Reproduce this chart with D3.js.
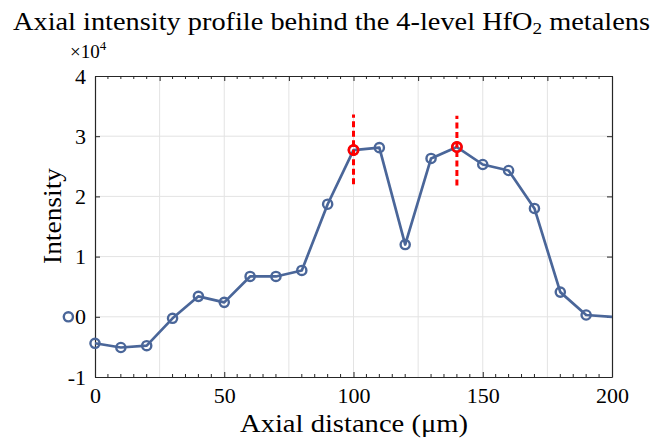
<!DOCTYPE html>
<html>
<head>
<meta charset="utf-8">
<script src="https://cdn.jsdelivr.net/npm/d3@7"></script>
<style>
  body { margin: 0; background: #fff; }
  text { font-family: "Liberation Serif", "DejaVu Serif", serif; fill: #000; }
</style>
</head>
<body>
<div id="chart"></div>
<script>
// data (intensity in units of 1e4)
const distance = [0, 10, 20, 30, 40, 50, 60, 70, 80, 90, 100, 110, 120, 130, 140, 150, 160, 170, 180, 190, 200];
const intensity = [-0.44, -0.51, -0.48, -0.025, 0.34, 0.24, 0.67, 0.67, 0.77, 1.87, 2.77, 2.81, 1.20, 2.63, 2.82, 2.53, 2.43, 1.80, 0.41, 0.03, 0.0];
const peakX = [100, 140];
const peakY = [2.77, 2.82];
const peakSpan = [[2.2, 3.36], [2.18, 3.34]];
const strayMarker = [-10.3, 0];
const xTicks = [0, 50, 100, 150, 200];
const yTicks = [-1, 0, 1, 2, 3, 4];

const width = 660, height = 442;
const m = {left: 95, right: 48, top: 76, bottom: 65};

const x = d3.scaleLinear().domain([0, 200]).range([m.left, width - m.right]);
const y = d3.scaleLinear().domain([-1, 4]).range([height - m.bottom, m.top]);

const svg = d3.select('#chart').append('svg').attr('width', width).attr('height', height);

// grid
const grid = svg.append('g').attr('stroke', '#e3e3e3').attr('stroke-width', 1);
grid.selectAll('.gx').data(d3.range(25, 200, 25)).join('line')
  .attr('x1', d => x(d)).attr('x2', d => x(d)).attr('y1', y(-1)).attr('y2', y(4));
grid.selectAll('.gy').data(d3.range(0, 4, 1)).join('line')
  .attr('x1', x(0)).attr('x2', x(200)).attr('y1', d => y(d)).attr('y2', d => y(d));

// axes
const axisStyle = g => {
  g.select('.domain').attr('stroke', '#262626').attr('stroke-width', 1.2);
  g.selectAll('.tick line').attr('stroke', '#262626');
  g.selectAll('text').style('font-family', '"Liberation Serif", serif').style('font-size', '22px').attr('fill', '#000');
};
svg.append('g').attr('transform', `translate(0,${y(-1)})`)
  .call(d3.axisBottom(x).tickValues(xTicks).tickSize(-5).tickSizeOuter(0).tickPadding(10))
  .call(axisStyle);
svg.append('g').attr('transform', `translate(0,${y(4)})`)
  .call(d3.axisTop(x).tickValues(d3.range(0, 201, 25)).tickSize(-5).tickSizeOuter(0).tickFormat(''))
  .call(axisStyle);
svg.append('g').attr('transform', `translate(${x(0)},0)`)
  .call(d3.axisLeft(y).tickValues(yTicks).tickSize(-5).tickSizeOuter(0).tickPadding(9).tickFormat(d => String(d)))
  .call(axisStyle);
svg.append('g').attr('transform', `translate(${x(200)},0)`)
  .call(d3.axisRight(y).tickValues(yTicks).tickSize(-5).tickSizeOuter(0).tickFormat(''))
  .call(axisStyle);

// minor ticks on x
const minor = d3.range(0, 201, 5).filter(d => d % 25 !== 0);
svg.append('g').attr('stroke', '#262626').selectAll('line').data(minor).join('line')
  .attr('x1', d => x(d)).attr('x2', d => x(d)).attr('y1', y(-1)).attr('y2', y(-1) - 3);
svg.append('g').attr('stroke', '#262626').selectAll('line').data(minor).join('line')
  .attr('x1', d => x(d)).attr('x2', d => x(d)).attr('y1', y(4)).attr('y2', y(4) + 3);

// line + markers
const pts = distance.map((d, i) => [d, intensity[i]]);
const blue = '#4a6699';
svg.append('path').datum(pts)
  .attr('fill', 'none').attr('stroke', blue).attr('stroke-width', 2.7).attr('stroke-linejoin', 'round')
  .attr('d', d3.line().x(d => x(d[0])).y(d => y(d[1])));
svg.append('g').selectAll('circle').data(pts.slice(0, -1)).join('circle')
  .attr('cx', d => x(d[0])).attr('cy', d => y(d[1])).attr('r', 4.6)
  .attr('fill', 'none').attr('stroke', blue).attr('stroke-width', 2.4);
svg.append('circle').attr('cx', x(strayMarker[0])).attr('cy', y(strayMarker[1])).attr('r', 4.6)
  .attr('fill', 'none').attr('stroke', blue).attr('stroke-width', 2.4);

// peak markers
peakX.forEach((px, i) => {
  svg.append('line').attr('x1', x(px)).attr('x2', x(px))
    .attr('y1', y(peakSpan[i][0])).attr('y2', y(peakSpan[i][1]))
    .attr('stroke', '#ff0000').attr('stroke-width', 3).attr('stroke-dasharray', '6,3.5');
  svg.append('circle').attr('cx', x(px)).attr('cy', y(peakY[i])).attr('r', 4.7)
    .attr('fill', 'none').attr('stroke', '#ff0000').attr('stroke-width', 2.6);
});

// labels
svg.append('text').attr('x', 13).attr('y', 30).style('font-size', '25px')
  .attr('textLength', 637).attr('lengthAdjust', 'spacingAndGlyphs')
  .html('Axial intensity profile behind the 4-level HfO<tspan baseline-shift="-25%" font-size="17px">2</tspan> metalens');
svg.append('text').attr('x', 70).attr('y', 58).style('font-size', '19px')
  .html('×10<tspan dy="-8" font-size="13px">4</tspan>');
svg.append('text').attr('x', 240).attr('y', 432).style('font-size', '25px')
  .attr('textLength', 228).attr('lengthAdjust', 'spacingAndGlyphs')
  .text('Axial distance (μm)');
svg.append('text').attr('transform', `translate(61,${216 + 48}) rotate(-90)`)
  .style('font-size', '25px').attr('textLength', 96).attr('lengthAdjust', 'spacingAndGlyphs')
  .text('Intensity');
</script>
</body>
</html>
